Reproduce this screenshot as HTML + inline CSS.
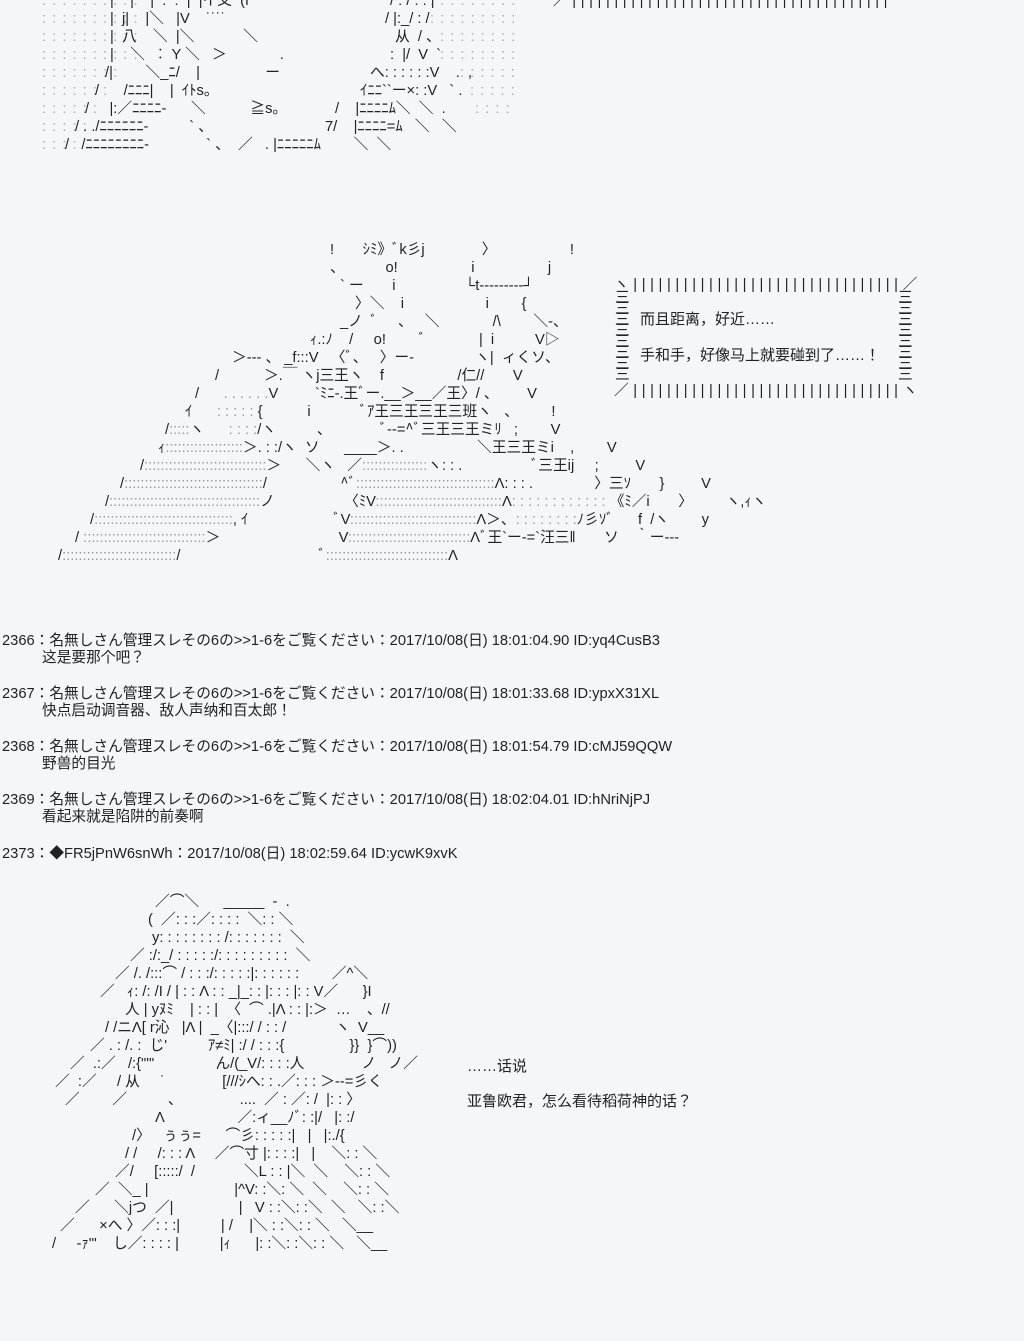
<!DOCTYPE html>
<html><head><meta charset="utf-8">
<style>
html,body{margin:0;padding:0;background:#f5f6f8;}
body{width:1024px;height:1341px;position:relative;overflow:hidden;font-family:"Liberation Sans","Noto Sans CJK JP",sans-serif;font-size:14.7px;color:#222;}
.r{position:absolute;white-space:pre;line-height:18px;}
.d{color:#aaa;letter-spacing:1px;}
.l{color:#999;}
.p{letter-spacing:4.6px;}
</style></head><body>

<!-- top art -->
<div class="r d" style="left:42px;top:-8px">: : : : : : : : : :</div>
<div class="r d" style="left:42px;top:10px">: : : : : : : : : :</div>
<div class="r d" style="left:42px;top:28px">: : : : : : : : : :</div>
<div class="r d" style="left:42px;top:46px">: : : : : : : : : :</div>
<div class="r d" style="left:42px;top:64px">: : : : : : : :</div>
<div class="r d" style="left:42px;top:82px">: : : : : : :</div>
<div class="r d" style="left:42px;top:100px">: : : : : :</div>
<div class="r d" style="left:42px;top:118px">: : : : :</div>
<div class="r d" style="left:42px;top:136px">: : : :</div>
<div class="r d" style="left:430px;top:-8px">: : : : : : : : :</div>
<div class="r d" style="left:430px;top:10px">: : : : : : : : :</div>
<div class="r d" style="left:440px;top:28px">: : : : : : : :</div>
<div class="r d" style="left:440px;top:46px">: : : : : : : :</div>
<div class="r d" style="left:460px;top:64px">: : : : : :</div>
<div class="r d" style="left:470px;top:82px">: : : : :</div>
<div class="r d" style="left:475px;top:100px">: : : :</div>
<div class="r" style="left:110px;top:-8px">|    |    |  :  :  |  |イ爻  (f</div>
<div class="r" style="left:390px;top:-8px">/ : / : : |</div>
<div class="r p" style="left:553px;top:-8px">／||||||||||||||||||||||||||||||||||||||｀</div>
<div class="r" style="left:110px;top:10px">|  j|    |＼   |V    ˙˙˙˙</div>
<div class="r" style="left:385px;top:10px">/ |:_/ : /</div>
<div class="r" style="left:110px;top:28px">|  八    ＼  |＼            ＼</div>
<div class="r" style="left:395px;top:28px">从  / 、</div>
<div class="r" style="left:110px;top:46px">|    ＼  ︰ Y ＼   ＞             .</div>
<div class="r" style="left:390px;top:46px">:  |/  V  `</div>
<div class="r" style="left:105px;top:64px">/|        ＼_ﾆ/    |                ー</div>
<div class="r" style="left:370px;top:64px">へ: : : : : :V    .  ,</div>
<div class="r" style="left:95px;top:82px">/      /ﾆﾆﾆ|    |  ｲﾄs。</div>
<div class="r" style="left:360px;top:82px">ｲﾆﾆ``ー×: :V   ` .</div>
<div class="r" style="left:85px;top:100px">/     |:／ﾆﾆﾆﾆ-      ＼           ≧s。</div>
<div class="r" style="left:335px;top:100px">/    |ﾆﾆﾆﾆﾑ＼  ＼  .</div>
<div class="r" style="left:75px;top:118px">/ . ./ﾆﾆﾆﾆﾆﾆ-          ` 、</div>
<div class="r" style="left:325px;top:118px">7/    |ﾆﾆﾆﾆ=ﾑ   ＼   ＼</div>
<div class="r" style="left:65px;top:136px">/   /ﾆﾆﾆﾆﾆﾆﾆﾆ-              ` 、  ／   . |ﾆﾆﾆﾆﾆﾑ        ＼  ＼</div>

<!-- middle art -->
<div class="r" style="left:330px;top:241px">!       ｼﾐ》ﾞk彡j              〉                  !</div>
<div class="r" style="left:330px;top:259px">、          o!                  i                  j</div>
<div class="r" style="left:340px;top:277px">` ー       i                 └t‐‐‐‐‐‐‐‐‐┘</div>
<div class="r" style="left:355px;top:295px">〉＼    i                    i        {</div>
<div class="r" style="left:340px;top:313px">_ノ  ﾞ     、   ＼             /\        ＼-、</div>
<div class="r" style="left:310px;top:331px">ｨ.:ﾉ    /     o!        ﾞ             |  i          V▷</div>
<div class="r" style="left:232px;top:349px">＞‐‐‐ 、 _f:::V   〈ﾞ、   〉ー-               ヽ|  ィくソ、</div>
<div class="r" style="left:215px;top:367px">/           ＞.￣ ヽj三王ヽ    f                  /仁//       V</div>
<div class="r" style="left:195px;top:385px">/      <span class="l">. . . . . .</span>V         `ﾐﾆ-.王ﾞー.__＞__／王〉/ 、       V</div>
<div class="r" style="left:185px;top:403px">ｲ      <span class="l">: : : : :</span> {           i            ﾞｱ王三王三王三班ヽ   、        !</div>
<div class="r" style="left:165px;top:421px">/<span class="l">:::::</span>ヽ      <span class="l">: : : :</span>/ヽ          、            ﾞ‐‐=^ﾞ三王三王ミﾘ   ;        V</div>
<div class="r" style="left:158px;top:439px">ｨ<span class="l">:::::::::::::::::::</span>＞. : :/ヽ  ソ      ____＞. .                  ＼王三王ミi    ,        V</div>
<div class="r" style="left:140px;top:457px">/<span class="l">::::::::::::::::::::::::::::::</span>＞      ＼ヽ   ／<span class="l">::::::::::::::::</span>ヽ: : .                 ﾞ三王ij     ;         V</div>
<div class="r" style="left:120px;top:475px">/<span class="l">::::::::::::::::::::::::::::::::::</span>/                  ^ﾞ<span class="l">::::::::::::::::::::::::::::::::::</span>Λ: : : .               〉三ｿ       }         V</div>
<div class="r" style="left:105px;top:493px">/<span class="l">:::::::::::::::::::::::::::::::::::::</span>ノ                 〈ﾐV<span class="l">:::::::::::::::::::::::::::::::</span>Λ<span class="l">: : : : : : : : : : : :</span> 《ﾐ／i       〉        ヽ,ｨヽ</div>
<div class="r" style="left:90px;top:511px">/<span class="l">::::::::::::::::::::::::::::::::::</span>, ｲ                     ﾞV<span class="l">:::::::::::::::::::::::::::::::</span>Λ＞、<span class="l">: : : : : : : :</span>ﾉ彡ｿﾞ      f  /ヽ        y</div>
<div class="r" style="left:75px;top:529px">/ <span class="l">::::::::::::::::::::::::::::::</span>＞                             V<span class="l">::::::::::::::::::::::::::::::</span>Λﾞ王`ー‐=`汪三‖       ソ    ｀ー‐‐‐</div>
<div class="r" style="left:58px;top:547px">/<span class="l">::::::::::::::::::::::::::::</span>/                                  ﾞ<span class="l">::::::::::::::::::::::::::::::</span>Λ</div>

<!-- box -->
<div class="r p" style="left:614px;top:276px">ヽ||||||||||||||||||||||||||||||||／</div>
<div class="r p" style="left:614px;top:382px">／||||||||||||||||||||||||||||||||ヽ</div>
<div class="r" style="left:615px;top:293px;line-height:11px">三<br>三<br>三<br>三<br>三<br>三<br>三<br>三</div>
<div class="r" style="left:898px;top:293px;line-height:11px">三<br>三<br>三<br>三<br>三<br>三<br>三<br>三</div>
<div class="r" style="left:640px;top:311px;font-size:15px">而且距离，好近……</div>
<div class="r" style="left:640px;top:347px;font-size:15px">手和手，好像马上就要碰到了……！</div>

<!-- posts -->
<div class="r" style="left:2px;top:632px">2366：名無しさん管理スレその6の&gt;&gt;1-6をご覧ください：2017/10/08(日) 18:01:04.90 ID:yq4CusB3</div>
<div class="r" style="left:42px;top:649px">这是要那个吧？</div>
<div class="r" style="left:2px;top:685px">2367：名無しさん管理スレその6の&gt;&gt;1-6をご覧ください：2017/10/08(日) 18:01:33.68 ID:ypxX31XL</div>
<div class="r" style="left:42px;top:702px">快点启动调音器、敌人声纳和百太郎！</div>
<div class="r" style="left:2px;top:738px">2368：名無しさん管理スレその6の&gt;&gt;1-6をご覧ください：2017/10/08(日) 18:01:54.79 ID:cMJ59QQW</div>
<div class="r" style="left:42px;top:755px">野兽的目光</div>
<div class="r" style="left:2px;top:791px">2369：名無しさん管理スレその6の&gt;&gt;1-6をご覧ください：2017/10/08(日) 18:02:04.01 ID:hNriNjPJ</div>
<div class="r" style="left:42px;top:808px">看起来就是陷阱的前奏啊</div>
<div class="r" style="left:2px;top:845px">2373：◆FR5jPnW6snWh：2017/10/08(日) 18:02:59.64 ID:ycwK9xvK</div>

<!-- bottom art -->
<div class="r" style="left:155px;top:893px">／⌒＼      _____  -  .</div>
<div class="r" style="left:148px;top:911px">(  ／: : :／: : : :  ＼: : ＼</div>
<div class="r" style="left:152px;top:929px">y: : : : : : : : /: : : : : : :  ＼</div>
<div class="r" style="left:130px;top:947px">／ :/:_/ : : : : :/: : : : : : : : :  ＼</div>
<div class="r" style="left:115px;top:965px">／ /. /:::⌒ / : : :/: : : : :|: : : : : :        ／^＼</div>
<div class="r" style="left:100px;top:983px">／   ｨ: /: /I / | : : Λ : : _|_: : |: : : |: : V／      }I</div>
<div class="r" style="left:125px;top:1001px">人 | yﾇﾐ    | : : |  〈  ⌒ .|Λ : : |:＞  …    、//</div>
<div class="r" style="left:105px;top:1019px">/ /ニΛ[ r沁   |Λ |  _〈|:::/ / : : /            ヽ  V__</div>
<div class="r" style="left:90px;top:1037px">／ . : /. :  じ'          ｱ≠ﾐ| :/ / : : :{                }}  }⌒))</div>
<div class="r" style="left:70px;top:1055px">／  .:／   /:{"'"               ん/(_V/: : : :人              ノ   ノ／</div>
<div class="r" style="left:55px;top:1073px">／  :／     / 从     ˙              [///ｼへ: : .／: : : ＞‐‐=彡く</div>
<div class="r" style="left:65px;top:1091px">／        ／          、              ....  ／ : ／: /  |: : 〉</div>
<div class="r" style="left:155px;top:1109px">Λ                  ／:ィ__ﾉﾞ: :|/   |: :/</div>
<div class="r" style="left:132px;top:1127px">/〉   ぅぅ=      ⌒彡: : : : :|   |   |:./{</div>
<div class="r" style="left:125px;top:1145px">/ /     /: : : Λ     ／⌒寸 |: : : :|   |    ＼: : ＼</div>
<div class="r" style="left:115px;top:1163px">／/     [:::::/  /            ＼L : : |＼  ＼    ＼: : ＼</div>
<div class="r" style="left:95px;top:1181px">／  ＼_ |                     |^V: :＼: ＼  ＼    ＼: : ＼</div>
<div class="r" style="left:75px;top:1199px">／      ＼jつ  ／|                |   V : :＼: :＼  ＼   ＼: :＼</div>
<div class="r" style="left:60px;top:1217px">／      ×へ 〉／: : :|          | /    |＼ : :＼: : ＼   ＼__</div>
<div class="r" style="left:52px;top:1235px">/     ‐ｧ'"    し／: : : : |          |ｨ      |: :＼: :＼: : ＼   ＼__</div>

<div class="r" style="left:467px;top:1058px;font-size:15px">……话说</div>
<div class="r" style="left:467px;top:1093px;font-size:15px">亚鲁欧君，怎么看待稻荷神的话？</div>

</body></html>
